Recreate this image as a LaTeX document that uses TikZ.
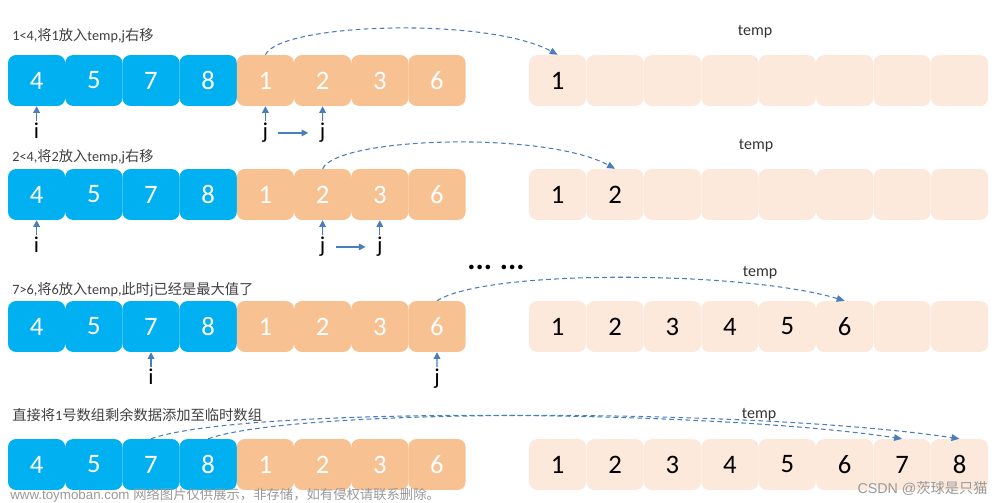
\documentclass[tikz,border=0pt]{standalone}
\usepackage{fontspec}
\setmainfont{Carlito}
\newfontfamily\cjk{Noto Sans CJK SC}
\newfontfamily\wmfont{Liberation Sans}
\usetikzlibrary{arrows.meta, positioning}

\definecolor{cellblue}{HTML}{00B0F0}
\definecolor{cellorange}{HTML}{F8C191}
\definecolor{templight}{HTML}{FCE9DB}
\definecolor{arrowblue}{HTML}{4A7EBB}
\definecolor{captiongray}{HTML}{404040}

\tikzset{
  cell/.style={rectangle, rounded corners=6pt, minimum width=42.9pt, minimum height=38.2pt,
    inner sep=0pt, font=\fontsize{20}{20}\selectfont},
  leftcell/.style={cell, fill=cellblue, text=white},
  rightcell/.style={cell, fill=cellorange, text=white},
  tempcell/.style={cell, fill=templight, text=black},
  caption/.style={anchor=west, inner sep=0pt, text=captiongray, font=\fontsize{10.7}{12}\selectfont},
  templabel/.style={inner sep=0pt, text=black!80, font=\fontsize{12}{14}\selectfont},
  pointer/.style={anchor=north, inner sep=1pt, text height=12pt, text depth=3.5pt,
    font=\fontsize{17}{17}\selectfont},
  ptr/.style={-{Triangle[width=5pt,length=5pt]}, arrowblue, line width=0.9pt},
  move/.style={-{Triangle[width=5pt,length=6pt]}, arrowblue, line width=0.8pt,
    dash pattern=on 3.5pt off 2.5pt},
  watermark/.style={inner sep=0pt, text=black!40, font=\wmfont\fontsize{10}{12}\selectfont}
}

\begin{document}
\begin{tikzpicture}[x=0.75pt, y=-0.75pt]

    \useasboundingbox (0,0) rectangle (1000,503);

    % Define nodes
    \foreach \r/\y/\filled in {1/80.5/1, 2/194.5/2, 3/326.5/6, 4/464.5/8} {
        \foreach \v [count=\k] in {4,5,7,8}
            \node[leftcell] (L\r-\k) at ({36.6+57.2*(\k-1)}, \y) {\v};
        \foreach \v [count=\k from 5] in {1,2,3,6}
            \node[rightcell] (L\r-\k) at ({36.6+57.2*(\k-1)}, \y) {\v};
        \foreach \k in {1,...,8}
            \node[tempcell] (T\r-\k) at ({557.7+57.4*(\k-1)}, \y) {\ifnum\k>\filled\else\k\fi};
    }

    \node[caption] (cap1) at (12,36) {1<4,{\cjk 将}1{\cjk 放入}temp,j{\cjk 右移}};
    \node[caption] (cap2) at (12,157) {2<4,{\cjk 将}2{\cjk 放入}temp,j{\cjk 右移}};
    \node[caption] (cap3) at (12,290) {7>6,{\cjk 将}6{\cjk 放入}temp,{\cjk 此时}j{\cjk 已经是最大值了}};
    \node[caption] (cap4) at (12,415) {{\cjk 直接将}1{\cjk 号数组剩余数据添加至临时数组}};

    \node[templabel] (tl1) at (755,32) {temp};
    \node[templabel] (tl2) at (756,146) {temp};
    \node[templabel] (tl3) at (760,273) {temp};
    \node[templabel] (tl4) at (759,415) {temp};

    \node[font=\bfseries\fontsize{23}{23}\selectfont, inner sep=0pt] (dots) at (496,267) {...\hspace{6pt}...};

    \node[pointer] (i1) at (36.6,121) {i};
    \node[pointer] (j1a) at (265.4,121) {j};
    \node[pointer] (j1b) at (322.6,121) {j};
    \node[pointer] (i2) at (36.6,235) {i};
    \node[pointer] (j2a) at (322.6,235) {j};
    \node[pointer] (j2b) at (379.8,235) {j};
    \node[pointer] (i3) at (151,367) {i};
    \node[pointer] (j3) at (437,367) {j};

    \node[watermark, anchor=west] (wm) at (10,495) {www.toymoban.com {\cjk 网络图片仅供展示，非存储，如有侵权请联系删除。}};
    \node[watermark, anchor=east, font=\wmfont\fontsize{10.7}{12}\selectfont] (csdn) at (988,488) {CSDN @{\cjk 茨球是只猫}};

    % Draw arrows
    \draw[ptr] (i1) -- (L1-1);
    \draw[ptr] (j1a) -- (L1-5);
    \draw[ptr] (j1b) -- (L1-6);
    \draw[ptr, shorten <=6.5pt, shorten >=7.5pt] (j1a) -- (j1b);
    \draw[ptr] (i2) -- (L2-1);
    \draw[ptr] (j2a) -- (L2-6);
    \draw[ptr] (j2b) -- (L2-7);
    \draw[ptr, shorten <=6.5pt, shorten >=7.5pt] (j2a) -- (j2b);
    \draw[ptr] (i3) -- (L3-3);
    \draw[ptr] (j3) -- (L3-8);

    \draw[move] (L1-5.north) .. controls +(15,-32) and +(-70,-38) .. (T1-1.north);
    \draw[move] (L2-6.north) .. controls +(15,-32) and +(-70,-38) .. (T2-2.north);
    \draw[move] (L3-8.north) .. controls +(50,-32) and +(-100,-30) .. (T3-6.north);
    \draw[move] (L4-3.north) .. controls +(90,-32) and +(-200,-30) .. (T4-7.north);
    \draw[move] (L4-4.north) .. controls +(90,-32) and +(-200,-30) .. (T4-8.north);

\end{tikzpicture}
\end{document}
